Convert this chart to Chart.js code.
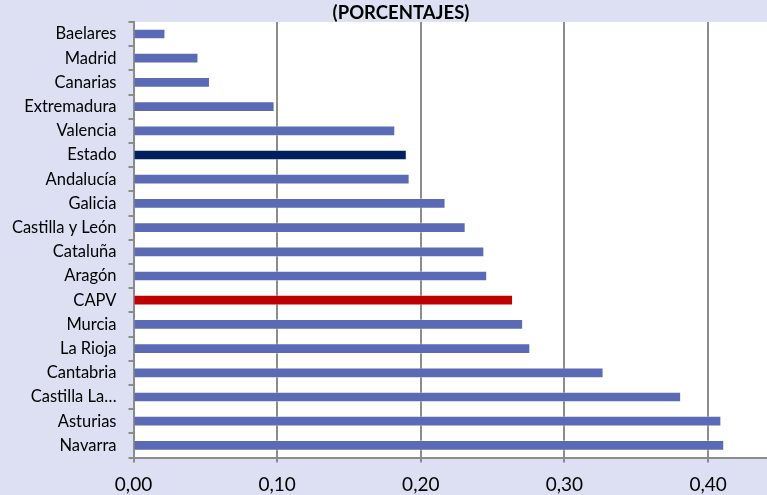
<!DOCTYPE html>
<html>
<head>
<meta charset="utf-8">
<script src="https://cdn.jsdelivr.net/npm/chart.js@4.4.1/dist/chart.umd.min.js"></script>
<style>
  html, body { margin: 0; padding: 0; background: #dce0f2; }
  #wrap { width: 767px; height: 495px; position: relative; }
</style>
</head>
<body>
<div id="wrap"><canvas id="chart"></canvas></div>
<script>
// regions, sorted from lowest to highest value
const regions = [
  "Baelares", "Madrid", "Canarias", "Extremadura", "Valencia", "Estado",
  "Andalucía", "Galicia", "Castilla y León", "Cataluña", "Aragón", "CAPV",
  "Murcia", "La Rioja", "Cantabria", "Castilla La Mancha", "Asturias", "Navarra"
];
const values = [
  0.022, 0.045, 0.053, 0.098, 0.182, 0.190,
  0.192, 0.217, 0.231, 0.244, 0.246, 0.264,
  0.271, 0.276, 0.327, 0.381, 0.409, 0.411
];
const xTicks = [0, 0.1, 0.2, 0.3, 0.4];
const title = "(PORCENTAJES)";

// highlighted bars
const barColors = regions.map((r) => {
  if (r === "Estado") return "#00205f";
  if (r === "CAPV") return "#c00000";
  return "#5a6ab4";
});

// lavender page background, white plot area, title drawn over the plot
const decor = {
  id: "decor",
  beforeDraw(chart) {
    const { ctx, chartArea } = chart;
    ctx.save();
    ctx.fillStyle = "#dce0f2";
    ctx.fillRect(0, 0, chart.width, chart.height);
    ctx.fillStyle = "#ffffff";
    ctx.fillRect(chartArea.left, chartArea.top, chartArea.right - chartArea.left, chartArea.bottom - chartArea.top);
    ctx.restore();
  },
  afterDraw(chart) {
    const { ctx } = chart;
    ctx.save();
    ctx.font = "bold 18.5px Lato";
    ctx.fillStyle = "#000";
    ctx.textAlign = "center";
    ctx.textBaseline = "middle";
    ctx.fillText(title, 401, 13.5);
    ctx.restore();
  }
};

new Chart(document.getElementById("chart"), {
  type: "bar",
  data: {
    labels: regions,
    datasets: [{
      data: values,
      backgroundColor: barColors,
      borderColor: "rgba(255,255,255,0.35)",
      borderWidth: 1,
      barThickness: 10
    }]
  },
  options: {
    indexAxis: "y",
    responsive: true,
    maintainAspectRatio: false,
    animation: false,
    layout: { padding: { top: 12.7, right: 0, left: 0, bottom: 0 } },
    plugins: {
      legend: { display: false },
      tooltip: { enabled: false }
    },
    scales: {
      x: {
        min: 0,
        max: 0.441,
        afterBuildTicks: (scale) => {
          scale.ticks = xTicks.map((v) => ({ value: v }));
        },
        afterFit: (scale) => { scale.height = 37.5; },
        border: { color: "#8c8c8c", width: 2 },
        grid: { color: "#8c8c8c", lineWidth: 2, tickLength: 5 },
        ticks: {
          color: "#000",
          font: { family: "Lato", size: 19 },
          padding: 11,
          callback: (v) => Number(v).toFixed(2).replace(".", ",")
        }
      },
      y: {
        afterFit: (scale) => { scale.width = 133.5; },
        border: { color: "#8c8c8c", width: 2 },
        grid: { drawOnChartArea: false, color: "#8c8c8c", lineWidth: 2, tickLength: 5, offset: true },
        ticks: {
          color: "#000",
          font: { family: "Lato", size: 16.5 },
          padding: 12,
          callback: function (v) {
            const s = this.getLabelForValue(v);
            return s.length > 16 ? "Castilla La…" : s;
          }
        }
      }
    }
  },
  plugins: [decor]
});
</script>
</body>
</html>
